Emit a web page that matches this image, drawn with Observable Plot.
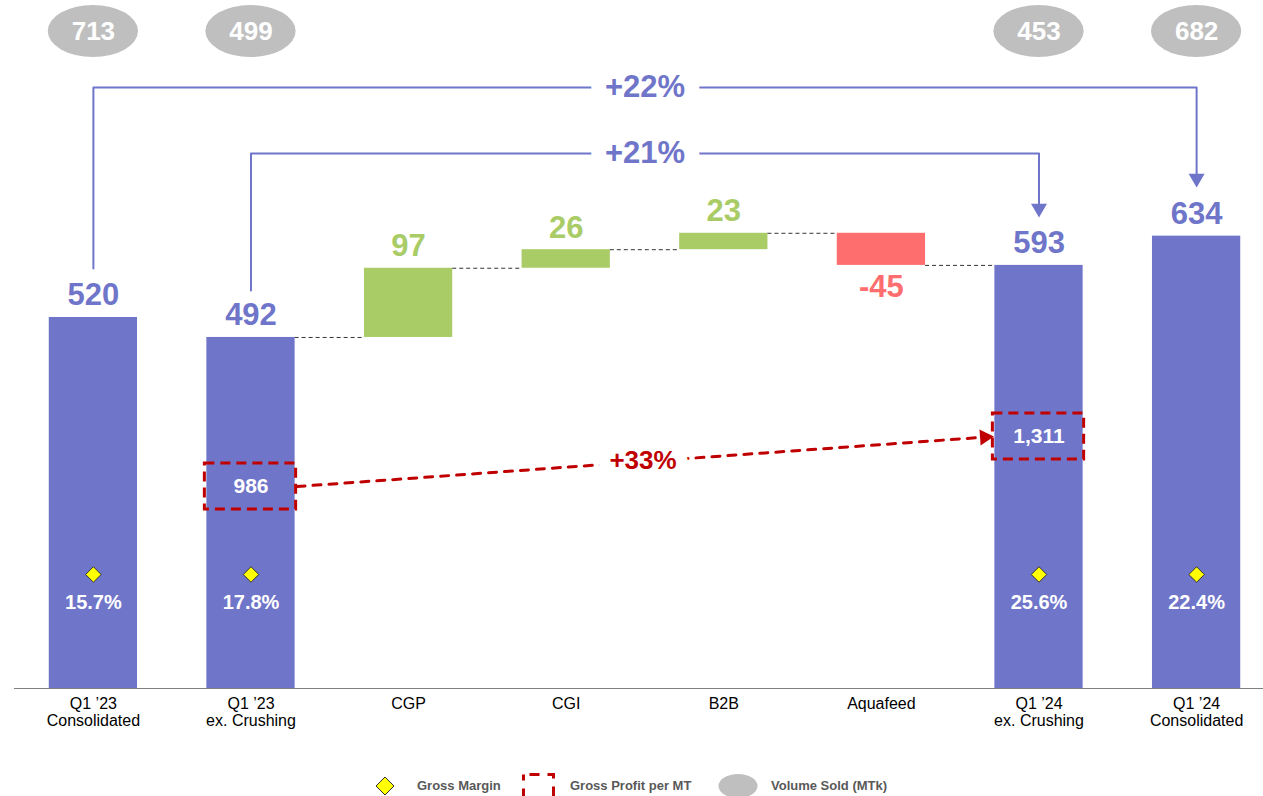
<!DOCTYPE html>
<html>
<head>
<meta charset="utf-8">
<script src="https://cdn.jsdelivr.net/npm/d3@7"></script>
<script src="https://cdn.jsdelivr.net/npm/@observablehq/plot@0.6"></script>
<style>
  html, body { margin: 0; padding: 0; background: #fff; }
  #chart { position: relative; width: 1263px; height: 796px; overflow: hidden; font-family: "Liberation Sans", Arial, sans-serif; }
  #chart svg.plot { position: absolute; left: 0; top: 0; }
  .leg { position: absolute; font-size: 13px; font-weight: bold; color: #595959; line-height: 15px; white-space: nowrap; }
  .legicon { position: absolute; overflow: visible; }
</style>
</head>
<body>
<div id="chart"></div>
<script>
// ---------------- data ----------------
const categories = ["Q1 ’23 Consolidated", "Q1 ’23 ex. Crushing", "CGP", "CGI", "B2B", "Aquafeed", "Q1 ’24 ex. Crushing", "Q1 ’24 Consolidated"];
const tickLabels = ["Q1 ’23\nConsolidated", "Q1 ’23\nex. Crushing", "CGP", "CGI", "B2B", "Aquafeed", "Q1 ’24\nex. Crushing", "Q1 ’24\nConsolidated"];
const barKinds = ["total", "total", "delta", "delta", "delta", "delta", "total", "total"];
const grossProfit = [520, 492, 97, 26, 23, -45, 593, 634];

const totalCats = ["Q1 ’23 Consolidated", "Q1 ’23 ex. Crushing", "Q1 ’24 ex. Crushing", "Q1 ’24 Consolidated"];
const volumeSold = [713, 499, 453, 682];
const grossMargin = ["15.7%", "17.8%", "25.6%", "22.4%"];

const gpCats = ["Q1 ’23 ex. Crushing", "Q1 ’24 ex. Crushing"];
const gpPerMT = [986, 1311];

const growthLabels = ["+22%", "+21%", "+33%"];
const legendLabels = ["Gross Margin", "Gross Profit per MT", "Volume Sold (MTk)"];

// ---------------- styling / layout ----------------
const PURPLE = "#6f75c9", GREEN = "#a9cc67", RED = "#ff6e6e", DARKRED = "#c00000", GREY = "#bfbfbf";
const W = 1263, H = 760, ML = 14, MR = 0, MT = 0, MB = 72;
const XR0 = 33, XR1 = 1256, PIN = 0.44, POUT = 0.1;
const step = (XR1 - XR0) / (categories.length - PIN + 2 * POUT);
const bw = step * (1 - PIN);
const K = 0.7135;                         // pixels per unit of gross profit
const yMax = (H - MB - MT) / K;
const yv = px => (H - MB - px) / K;       // pixel row -> value on the y scale
const cx = c => XR0 + step * POUT + step * categories.indexOf(c) + bw / 2;

// waterfall geometry
let run = 0;
const bars = categories.map((c, i) => {
  const v = grossProfit[i];
  let y1, y2;
  if (barKinds[i] === "total") { y1 = 0; y2 = v; run = v; }
  else { y1 = run; y2 = run + v; run = y2; }
  const fill = barKinds[i] === "total" ? PURPLE : (v >= 0 ? GREEN : RED);
  return {cat: c, y1, y2, v, fill, top: Math.max(y1, y2), bottom: Math.min(y1, y2)};
});
const connectors = [];
for (let i = 1; i <= 5; i++) connectors.push({from: categories[i], to: categories[i + 1], level: bars[i].y2});

// growth brackets (pixel rows for the annotation paths)
const bracketDefs = [
  {id: "a", from: categories[0], to: categories[7], start: 268, top: 87, tip: 187},
  {id: "b", from: categories[1], to: categories[6], start: 290, top: 153, tip: 217}
];
const TRI_R = 5.94, TRI_C = 9.24;   // triangle size and centroid-to-tip distance
const bracketPts = bracketDefs.flatMap(b => [
  {id: b.id, cat: b.from, y: yv(b.start)},
  {id: b.id, cat: b.from, y: yv(b.top)},
  {id: b.id, cat: b.to, y: yv(b.top)},
  {id: b.id, cat: b.to, y: yv(b.tip - TRI_C)}
]);
const bracketTips = bracketDefs.map(b => ({cat: b.to, y: yv(b.tip - TRI_C)}));
const bracketLabels = bracketDefs.map((b, i) => ({cat: categories[3], y: yv(b.top), text: growthLabels[i]}));

// gross profit per MT boxes
const gpRows = [486, 436];
const gpBoxes = gpCats.map((c, i) => ({cat: c, v: gpPerMT[i], y1: yv(gpRows[i] + 23), y2: yv(gpRows[i] - 23), y: yv(gpRows[i])}));
const x0 = cx(gpCats[0]) + bw / 2 + 2, x1 = cx(gpCats[1]) - bw / 2 - 1;   // box edges
const slope = (gpRows[1] - gpRows[0]) / (x1 - x0);
const gpArrow = [{a: gpCats[0], b: gpCats[1],
  ya: yv(gpRows[0] - (x0 - cx(gpCats[0])) * slope),
  yb: yv(gpRows[1] + (cx(gpCats[1]) - x1) * slope)}];
const ang = Math.atan2(gpRows[1] - gpRows[0], x1 - x0);
const gpTip = [{cat: gpCats[1], dx: x1 - TRI_C * Math.cos(ang) - cx(gpCats[1]),
  y: yv(gpRows[1] - TRI_C * Math.sin(ang)), rot: 90 + ang * 180 / Math.PI}];
const gpLabel = [{cat: categories[3], y: yv(460.5), text: growthLabels[2]}];

const totals = totalCats.map((c, i) => ({cat: c, vol: volumeSold[i], gm: grossMargin[i]}));

const font = "'Liberation Sans', Arial, sans-serif";

const plot = Plot.plot({
  width: W, height: H,
  marginLeft: ML, marginRight: MR, marginTop: MT, marginBottom: MB,
  style: {fontFamily: font, background: "transparent", overflow: "visible"},
  x: {domain: categories, range: [XR0, XR1], paddingInner: PIN, paddingOuter: POUT, round: false, axis: null},
  y: {domain: [0, yMax], axis: null},
  color: {type: "identity"},
  marks: [
    // waterfall bars
    Plot.barY(bars, {x: "cat", y1: "y1", y2: "y2", fill: "fill"}),
    // dashed connectors
    Plot.ruleY(connectors, {x1: "from", x2: "to", y: "level", insetLeft: bw, insetRight: bw,
      stroke: "#333", strokeWidth: 1, strokeDasharray: "4,3"}),
    // baseline
    Plot.ruleY([0], {stroke: "#808080", strokeWidth: 1.2}),
    // category labels
    Plot.text(categories, {x: d => d, y: () => 0, text: (d, i) => tickLabels[i], lineAnchor: "top",
      dy: 8, fontSize: 16, lineHeight: 1.06, fill: "#000"}),
    // value labels
    Plot.text(bars.filter(d => d.v >= 0), {x: "cat", y: "top", text: d => String(d.v), dy: -22,
      fontSize: 31, fontWeight: "bold", fill: "fill"}),
    Plot.text(bars.filter(d => d.v < 0), {x: "cat", y: "bottom", text: d => String(d.v), dy: 22,
      fontSize: 31, fontWeight: "bold", fill: "fill"}),
    // growth brackets
    Plot.line(bracketPts, {x: "cat", y: "y", z: "id", stroke: PURPLE, strokeWidth: 2, curve: "linear"}),
    Plot.dot(bracketTips, {x: "cat", y: "y", symbol: "triangle", r: TRI_R, rotate: 180, fill: PURPLE, stroke: "none"}),
    Plot.text(bracketLabels, {x: "cat", y: "y", text: "text", dx: step / 2, fontSize: 31, fontWeight: "bold",
      fill: PURPLE, stroke: "white", strokeWidth: 30, strokeLinejoin: "round"}),
    // volume ellipses
    Plot.barY(totals, {x: "cat", y1: () => yv(57), y2: () => yv(5), insetLeft: -1, insetRight: -1,
      rx: 200, ry: 200, fill: GREY}),
    Plot.text(totals, {x: "cat", y: () => yv(31), text: d => String(d.vol), fontSize: 26, fontWeight: "bold", fill: "white"}),
    // gross margin
    Plot.dot(totals, {x: "cat", y: () => yv(574), symbol: "diamond2", r: 7, fill: "#ffff00", stroke: "#333", strokeWidth: 1}),
    Plot.text(totals, {x: "cat", y: () => yv(602), text: "gm", fontSize: 20, fontWeight: "bold", fill: "white"}),
    // gross profit per MT
    Plot.barY(gpBoxes, {x: "cat", y1: "y1", y2: "y2", insetLeft: -2, insetRight: -1, fill: "none",
      stroke: DARKRED, strokeWidth: 3, strokeDasharray: "10,6"}),
    Plot.text(gpBoxes, {x: "cat", y: "y", text: d => d3.format(",")(d.v), fontSize: 21, fontWeight: "bold", fill: "white"}),
    Plot.arrow(gpArrow, {x1: "a", y1: "ya", x2: "b", y2: "yb", insetStart: bw / 2 + 2, insetEnd: bw / 2 + 1 + 13,
      headLength: 0, stroke: DARKRED, strokeWidth: 3, strokeDasharray: "8,8"}),
    Plot.dot(gpTip, {x: "cat", y: "y", dx: gpTip[0].dx, symbol: "triangle", r: TRI_R, rotate: "rot", fill: DARKRED, stroke: "none"}),
    Plot.text(gpLabel, {x: "cat", y: "y", text: "text", dx: step / 2 - 2, fontSize: 26, fontWeight: "bold",
      fill: DARKRED, stroke: "white", strokeWidth: 24, strokeLinejoin: "round"})
  ]
});
plot.classList.add("plot");
const chart = document.getElementById("chart");
chart.appendChild(plot);

// ---------------- legend ----------------
const NS = "http://www.w3.org/2000/svg";
function icon(left, top, w, h, inner) {
  const s = document.createElementNS(NS, "svg");
  s.setAttribute("class", "legicon");
  s.setAttribute("width", w); s.setAttribute("height", h);
  s.style.left = left + "px"; s.style.top = top + "px";
  s.innerHTML = inner;
  chart.appendChild(s);
}
function label(left, text) {
  const d = document.createElement("div");
  d.className = "leg";
  d.style.left = left + "px"; d.style.top = "778px";
  d.textContent = text;
  chart.appendChild(d);
}
icon(375, 776, 20, 20, `<path d="M10,1 L19,10 L10,19 L1,10 Z" fill="#ffff00" stroke="#333" stroke-width="1"/>`);
label(417, legendLabels[0]);
icon(521, 772, 36, 30, `<rect x="2.5" y="2.5" width="30" height="30" fill="none" stroke="${DARKRED}" stroke-width="3" stroke-dasharray="10,8" stroke-dashoffset="-6"/>`);
label(570, legendLabels[1]);
icon(718, 773, 40, 26, `<ellipse cx="20" cy="13" rx="19.5" ry="12" fill="${GREY}"/>`);
label(771, legendLabels[2]);
</script>
</body>
</html>
